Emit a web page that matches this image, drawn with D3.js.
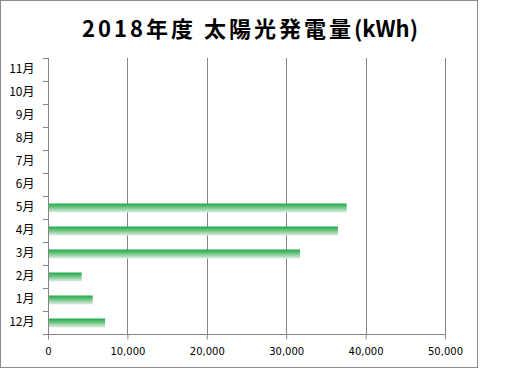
<!DOCTYPE html>
<html><head><meta charset="utf-8">
<script src="https://cdn.jsdelivr.net/npm/d3@7"></script>
<style>body{margin:0;background:#fff}</style>
</head><body>
<svg id="c" width="519" height="369"></svg>
<script>
const titleParts = ["2018年度 太陽光発電量", "(kWh)"];
const months = ["12月","1月","2月","3月","4月","5月","6月","7月","8月","9月","10月","11月"];
const values = [7180, 5630, 4240, 31740, 36520, 37620, null, null, null, null, null, null];
const xTicks = [0, 10000, 20000, 30000, 40000, 50000];

const svg = d3.select("#c");
const defs = svg.append("defs");
const g = defs.append("linearGradient").attr("id","bg").attr("x1",0).attr("y1",0).attr("x2",0).attr("y2",1);
g.append("stop").attr("offset","0%").attr("stop-color","#1fa84c");
g.append("stop").attr("offset","35%").attr("stop-color","#5cbf72");
g.append("stop").attr("offset","100%").attr("stop-color","#e6ece6");

svg.append("rect").attr("x",0.5).attr("y",0.5).attr("width",477).attr("height",367)
  .attr("fill","#fff").attr("stroke","#8c8c8c");

const t = svg.append("text").attr("x",250).attr("y",37).attr("text-anchor","middle")
  .attr("font-family","'Noto Sans CJK JP'").attr("font-weight","bold").attr("font-size",22);
t.append("tspan").attr("letter-spacing",3).text(titleParts[0]);
t.append("tspan").text(titleParts[1]);

const x = d3.scaleLinear().domain([0,50000]).range([48,445]);
const y = d3.scaleBand().domain(months.slice().reverse()).range([58,334]);

// gridlines
svg.append("g").selectAll("line").data(xTicks.slice(1)).join("line")
  .attr("x1",d=>Math.round(x(d))+0.5).attr("x2",d=>Math.round(x(d))+0.5)
  .attr("y1",58).attr("y2",334).attr("stroke","#868686");

// bars
const bh = 9;
svg.append("g").selectAll("rect").data(months.map((m,i)=>({m,v:values[i]})).filter(d=>d.v!=null)).join("rect")
  .attr("x",x(0)).attr("y",d=>y(d.m)+y.bandwidth()/2-bh/2+0.5)
  .attr("width",d=>x(d.v)-x(0)).attr("height",bh).attr("fill","url(#bg)");

// y axis
const ya = svg.append("g").attr("transform","translate(48.5,0)")
  .call(d3.axisLeft(y).tickSize(0).tickPadding(14));
ya.select(".domain").attr("stroke","#868686").attr("d","M0,58V334.5");
ya.selectAll("text").attr("font-family","'Noto Sans CJK JP'").attr("font-size",12).attr("fill","#000");
// category separator ticks
svg.append("g").selectAll("line").data(d3.range(13)).join("line")
  .attr("x1",43).attr("x2",48).attr("y1",i=>Math.round(58+i*y.step())+0.5).attr("y2",i=>Math.round(58+i*y.step())+0.5)
  .attr("stroke","#868686");

// x axis
const xa = svg.append("g").attr("transform","translate(0,334.5)")
  .call(d3.axisBottom(x).tickValues(xTicks).tickSize(5).tickPadding(8).tickFormat(d3.format(",")));
xa.select(".domain").attr("stroke","#868686").attr("d","M48,0H445.5");
xa.selectAll(".tick line").attr("stroke","#868686");
xa.selectAll("text").attr("font-family","'DejaVu Sans'").attr("font-size",10).attr("fill","#000");
</script>
</body></html>
